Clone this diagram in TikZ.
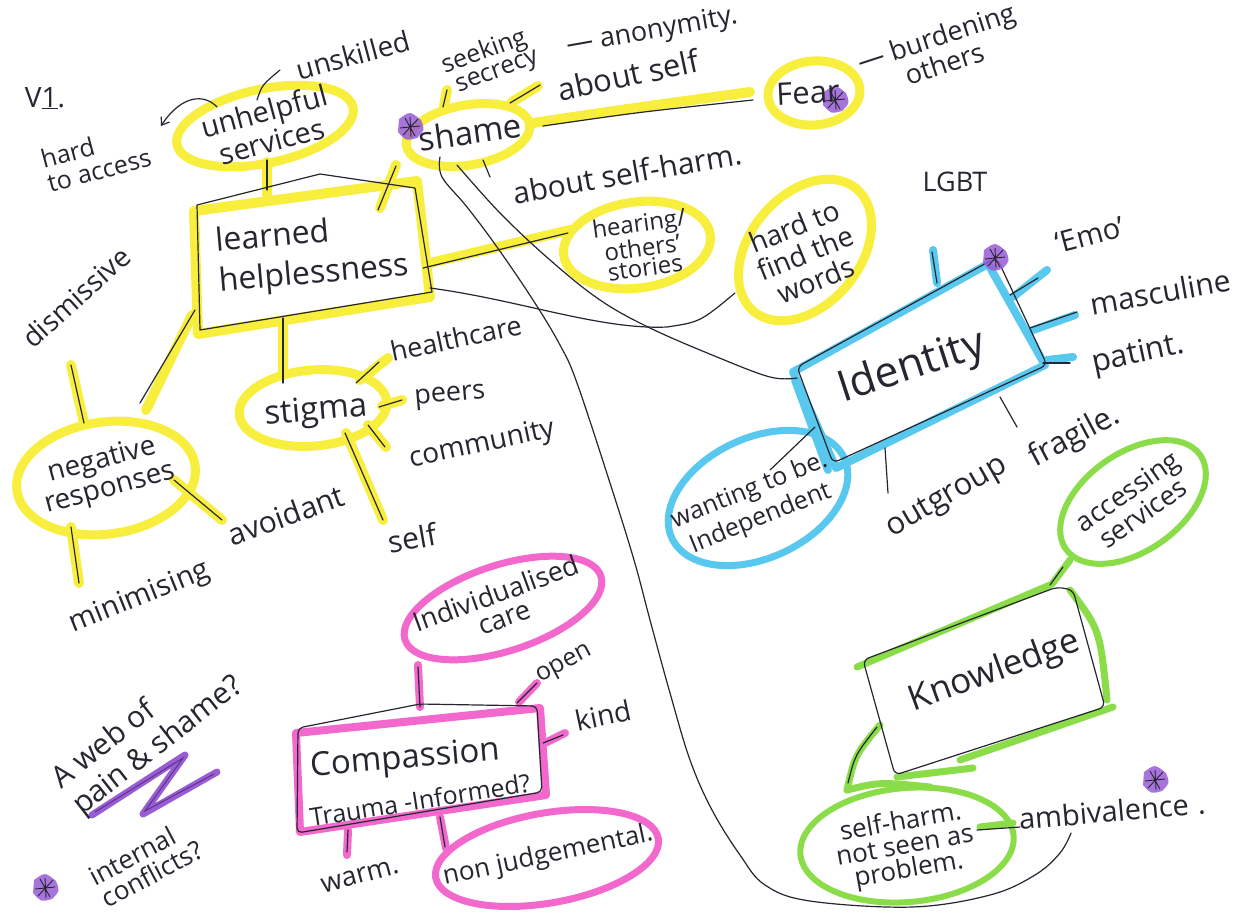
\documentclass[tikz,border=0pt]{standalone}
\usepackage{fontspec}
\setmainfont{Open Sans}
\usetikzlibrary{shapes.geometric,arrows.meta}
\definecolor{hly}{RGB}{248,238,62}
\definecolor{hlc}{RGB}{88,200,238}
\definecolor{hlp}{RGB}{242,104,204}
\definecolor{hlg}{RGB}{138,220,72}
\definecolor{hlv}{RGB}{152,92,214}
\definecolor{ink}{RGB}{38,38,48}
\tikzset{
  pen/.style={draw=ink, line width=1.2pt, line cap=round, line join=round},
  hY/.style={draw=hly, line width=10pt, line cap=round, line join=round},
  hC/.style={draw=hlc, line width=8pt, line cap=round, line join=round},
  hP/.style={draw=hlp, line width=8pt, line cap=round, line join=round},
  hG/.style={draw=hlg, line width=7pt, line cap=round, line join=round},
  hV/.style={draw=hlv, line width=7pt, line cap=round, line join=round},
  ring/.style={ellipse, inner sep=0pt, outer sep=0pt},
  ringY/.style={ring, draw=hly, line width=9pt},
  ringC/.style={ring, draw=hlc, line width=7pt},
  ringP/.style={ring, draw=hlp, line width=7pt},
  ringG/.style={ring, draw=hlg, line width=6pt},
  lbl/.style 2 args={text=ink, inner sep=0pt, align=center, font=\fontsize{#1}{#2}\selectfont},
  pstar/.pic={
    \fill[hlv, opacity=0.85] (-11,-8) .. controls (0,-16) .. (11,-7) .. controls (15,3) .. (7,11) .. controls (-4,14) .. (-12,5) -- cycle;
    \draw[ink, line width=0.9pt] (-10,1)--(10,-1) (-5,-9)--(5,9) (-7,8)--(8,-8) (0,-10)--(1,10);
  }
}
\begin{document}
\begin{tikzpicture}[x=1pt,y=-1pt]
\useasboundingbox (0,0) rectangle (1236,914);
\fill[white] (0,0) rectangle (1236,914);

% ---------- rings
\node[ringY, minimum width=180, minimum height=74, rotate=12] (unh) at (265,126) {};
\node[ringY, minimum width=125, minimum height=60, rotate=10] (shame) at (468,135) {};
\node[ringY, minimum width=92, minimum height=64, rotate=5] (fear) at (814,93) {};
\node[ringY, minimum width=148, minimum height=86, rotate=8] (hear) at (637,245) {};
\node[ringY, minimum width=160, minimum height=110, rotate=50] (hardw) at (805,250) {};
\node[ringY, minimum width=180, minimum height=112, rotate=8] (neg) at (106,478) {};
\node[ringY, minimum width=148, minimum height=76, rotate=5] (stig) at (313,408) {};
\node[ringC, minimum width=190, minimum height=120, rotate=25] (want) at (758,498) {};
\node[ringP, minimum width=206, minimum height=86, rotate=18] (indiv) at (503,608) {};
\node[ringP, minimum width=226, minimum height=90, rotate=10] (nonj) at (547,858) {};
\node[ringG, minimum width=164, minimum height=98, rotate=35] (acc) at (1133,502) {};
\node[ringG, minimum width=214, minimum height=114, rotate=5] (selfh) at (907,845) {};

% ---------- box highlights
\draw[hY] (194,211) -- (417,181) -- (430,297) -- (198,334) -- cycle;
\draw[hC] (793,372) -- (988,264) -- (1045,365) -- (836,468) -- cycle;
\draw[hC] (795,380) -- (828,470);
\draw[hP] (296,733) -- (540,708) -- (546,795) -- (300,832) -- cycle;
\draw[hG] (857,667) -- (1050,585);
\draw[hG] (1070,590) .. controls (1100,630) .. (1107,700);
\draw[hG] (1113,707) -- (960,760);
\draw[hG] (973,768) -- (897,777);

% ---------- highlighter connectors
\draw[hY] (267,162) -- (267,195);
\draw[hY] (396,165) -- (380,208);
\draw[hY] (447,90) -- (444,106);
\draw[hY] (512,102) -- (538,86);
\draw[hY] (533,123) .. controls (620,110) .. (750,92);
\draw[hY] (430,263) -- (570,230);
\draw[hY] (146,410) -- (192,315);
\draw[hY] (71,365) -- (84,423);
\draw[hY] (174,480) -- (222,520);
\draw[hY] (71,527) -- (79,583);
\draw[hY] (283,320) -- (283,372);
\draw[hY] (360,380) -- (388,358);
\draw[hY] (382,406) -- (402,400);
\draw[hY] (368,425) -- (386,447);
\draw[hY] (346,433) -- (383,520);
\draw[hC] (933,250) -- (937,283);
\draw[hC] (1013,297) -- (1047,270);
\draw[hC] (1033,330) -- (1075,315);
\draw[hC] (1047,360) -- (1073,357);
\draw[hP] (418,665) -- (420,707);
\draw[hP] (519,702) -- (537,683);
\draw[hP] (545,743) -- (565,733);
\draw[hP] (348,830) -- (347,855);
\draw[hP] (440,817) -- (446,848);
\draw[hG] (1052,584) -- (1070,560);
\draw[hG] (880,725) .. controls (855,755) .. (847,790);
\draw[hG] (847,790) .. controls (880,782) .. (930,787);
\draw[hG] (980,827) -- (1013,823);
\draw[hV] (92,815) -- (185,755) -- (143,814) -- (217,772);
\draw[draw=hlv!60!black, line width=1pt] (95,812) -- (183,758) -- (145,811) -- (214,774);

% ---------- boxes (ink)
\draw[pen] (197,205) -- (320,174) -- (415,188) -- (432,292) -- (200,330) -- cycle;
\draw[pen, rounded corners=6] (797,367) -- (990,261) -- (997,258) -- (1047,365) -- (833,463) -- cycle;
\draw[pen, rounded corners=5] (298,728) -- (420,704) -- (537,706) -- (542,792) -- (297,833) -- cycle;
\draw[pen, rounded corners=6] (863,660) -- (1057,587) -- (1073,590) -- (1105,707) -- (895,775) -- cycle;

% ---------- ink connectors
\draw[pen] (267,160) -- (267,190);
\draw[pen, -{Straight Barb[length=7pt,width=10pt]}] (217,107) .. controls (205,94) and (182,94) .. (161,126);
\draw[pen] (257,100) .. controls (262,85) .. (280,70);
\draw[pen] (396,166) -- (378,210);
\draw[pen] (447,90) -- (443,107);
\draw[pen] (510,103) -- (540,85);
\draw[pen] (483,160) -- (490,177);
\draw[pen] (543,126) .. controls (640,112) .. (753,100);
\draw[pen] (423,268) -- (568,233);
\draw[pen] (430,288) .. controls (520,300) and (600,330) .. (667,327) .. controls (700,322) .. (735,293);
\draw[pen] plot[smooth, tension=0.6] coordinates {(440,157) (442,177) (467,207) (497,247) (533,300) (560,345) (577,383) (610,483) (634,560) (650,620) (670,693) (690,760) (712,810) (740,855) (765,885) (810,901) (912,907) (990,895) (1035,875) (1060,853) (1071,833)};
\draw[pen] plot[smooth, tension=0.6] coordinates {(457,165) (500,213) (550,260) (600,300) (650,328) (717,357) (770,377) (797,378)};
\draw[pen] (195,310) -- (140,403);
\draw[pen] (71,365) -- (84,423);
\draw[pen] (174,480) -- (222,520);
\draw[pen] (71,527) -- (79,583);
\draw[pen] (283,318) -- (283,383);
\draw[pen] (356,383) -- (379,362);
\draw[pen] (379,407) -- (402,400);
\draw[pen] (368,425) -- (385,447);
\draw[pen] (345,433) -- (383,520);
\draw[pen] (770,470) -- (815,427);
\draw[pen] (932,252) -- (937,283);
\draw[pen] (1010,295) -- (1038,278);
\draw[pen] (1030,328) -- (1077,312);
\draw[pen] (1043,363) -- (1070,363);
\draw[pen] (1000,397) -- (1017,427);
\draw[pen] (885,448) -- (888,493);
\draw[pen] (418,667) -- (420,707);
\draw[pen] (517,703) -- (537,683);
\draw[pen] (543,743) -- (563,735);
\draw[pen] (348,830) -- (347,852);
\draw[pen] (440,817) -- (445,847);
\draw[pen] (1050,585) -- (1063,567);
\draw[pen] (877,727) .. controls (855,755) .. (848,783);
\draw[pen] (977,830) -- (1020,827);

% ---------- stars
\pic at (410,127) {pstar};
\pic at (835,100) {pstar};
\pic at (995,258) {pstar};
\pic at (1155,780) {pstar};
\pic at (45,888) {pstar};

% ---------- texts
\node[lbl={28}{30}] (v1) at (45,98) {V\underline{1}.};
\node[lbl={25}{25}, align=left, rotate=15] (hacc) at (96,158) {hard\\to access};
\node[lbl={29}{31}, rotate=15] (unhT) at (268,126) {unhelpful\\services};
\node[lbl={28}{30}, rotate=15] (unsk) at (353,55) {unskilled};
\node[lbl={32}{40}, align=left, rotate=5] (lh) at (312,255) {learned\\helplessness};
\node[lbl={25}{22}, align=left, rotate=20] (seek) at (490,62) {seeking\\\ secrecy};
\node[lbl={27}{28}, rotate=10] (anon) at (652,32) {--- anonymity.};
\node[lbl={31}{32}, rotate=12] (abself) at (628,75) {about self};
\node[lbl={33}{34}, rotate=8] (shameT) at (470,132) {shame};
\node[lbl={30}{32}, rotate=10] (abharm) at (627,173) {about self-harm.};
\node[lbl={31}{32}, rotate=3] (fearT) at (808,93) {Fear};
\node[lbl={27}{26}, rotate=18] (burd) at (940,50) {--- burdening\\others};
\node[lbl={24}{20}, rotate=8] (hearT) at (642,245) {hearing/\\others'\\stories};
\node[lbl={28}{29}, rotate=22] (hardwT) at (805,253) {hard to\\find the\\words};
\node[lbl={27}{28}] (lgbt) at (955,182) {LGBT};
\node[lbl={29}{30}, rotate=15] (emo) at (1090,235) {`Emo'};
\node[lbl={30}{32}, rotate=10] (masc) at (1160,292) {masculine};
\node[lbl={31}{32}, rotate=12] (pat) at (1138,355) {patint.};
\node[lbl={31}{32}, rotate=28] (frag) at (1075,437) {fragile.};
\node[lbl={31}{32}, rotate=30] (outg) at (947,498) {outgroup};
\node[lbl={43}{44}, rotate=18] (ident) at (912,368) {Identity};
\node[lbl={25}{30}, rotate=22] (wantT) at (755,505) {wanting to be.\\Independent};
\node[lbl={28}{28}, rotate=42] (dism) at (76,297) {dismissive};
\node[lbl={28}{29}, rotate=15] (negT) at (106,475) {negative\\responses};
\node[lbl={33}{34}, rotate=5] (stigT) at (316,412) {stigma};
\node[lbl={27}{28}, rotate=12] (hc) at (456,338) {healthcare};
\node[lbl={27}{28}, rotate=5] (peers) at (450,397) {peers};
\node[lbl={28}{28}, rotate=12] (comm) at (482,445) {community};
\node[lbl={30}{30}, rotate=10] (self) at (412,538) {self};
\node[lbl={30}{30}, rotate=20] (avoid) at (286,515) {avoidant};
\node[lbl={29}{30}, rotate=22] (minim) at (140,598) {minimising};
\node[lbl={30}{34}, align=left, rotate=38] (web) at (148,733) {A web of\\pain \& shame?};
\node[lbl={26}{25}, align=left, rotate=28] (intc) at (146,863) {internal\\conflicts?};
\node[lbl={27}{25}, rotate=20] (indivT) at (500,605) {Individualised\\care};
\node[lbl={33}{34}, rotate=5] (compT) at (405,760) {Compassion};
\node[lbl={25}{26}, rotate=9] (traum) at (420,800) {Trauma -Informed?};
\node[lbl={25}{26}, rotate=28] (open) at (565,665) {open};
\node[lbl={28}{28}, rotate=12] (kind) at (603,715) {kind};
\node[lbl={27}{27}, rotate=15] (warm) at (360,876) {warm.};
\node[lbl={26}{26}, rotate=12] (nonjT) at (548,856) {non judgemental.};
\node[lbl={35}{36}, rotate=20] (know) at (995,672) {Knowledge};
\node[lbl={27}{27}, rotate=35] (accT) at (1135,502) {accessing\\services};
\node[lbl={26}{24}, rotate=10] (selfhT) at (905,847) {self-harm.\\not seen as\\problem.};
\node[lbl={29}{30}, rotate=5] (amb) at (1112,811) {ambivalence\hspace{0.3em}.};
\end{tikzpicture}
\end{document}
